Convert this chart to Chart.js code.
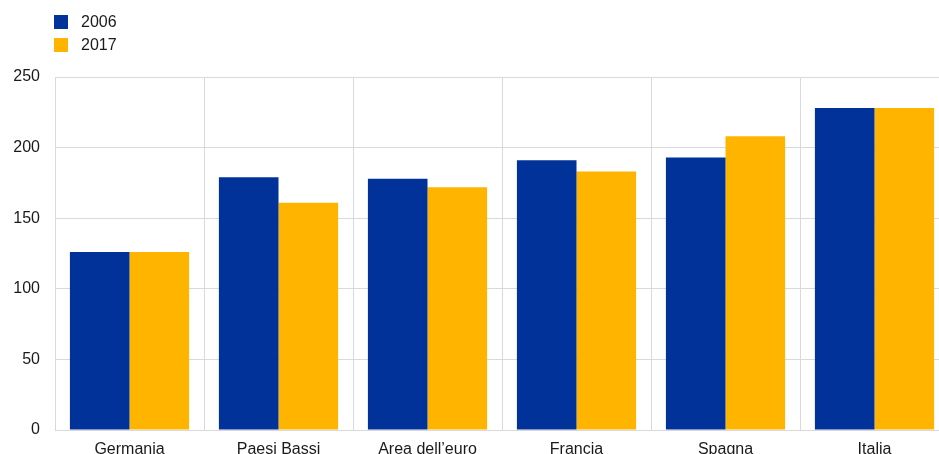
<!DOCTYPE html>
<html>
<head>
<meta charset="utf-8">
<script src="https://cdn.jsdelivr.net/npm/chart.js@4/dist/chart.umd.min.js"></script>
<style>
  html, body { margin: 0; padding: 0; overflow: hidden; background: #fff; }
  #wrap { position: relative; width: 939px; height: 454px; overflow: hidden; }
  #chart { position: absolute; left: 0; top: 0; }
  #legend { position: absolute; left: 54px; top: 15px; font: 16px "Liberation Sans", Arial, sans-serif; color: #1a1a1a; }
  .item { display: flex; align-items: center; height: 14px; line-height: 14px; margin-bottom: 9px; }
  .box { width: 14px; height: 14px; margin-right: 13px; }
</style>
</head>
<body>
<div id="wrap">
  <canvas id="chart" width="955" height="470"></canvas>
  <div id="legend"></div>
</div>
<script>
var categories = ["Germania", "Paesi Bassi", "Area dell\u2019euro", "Francia", "Spagna", "Italia"];
var values2006 = [126, 179, 178, 191, 193, 228];
var values2017 = [126, 161, 172, 183, 208, 228];
var seriesNames = ["2006", "2017"];
var barColors = ["#003299", "#FFB400"];
var yTicks = [0, 50, 100, 150, 200, 250];

var legend = document.getElementById("legend");
seriesNames.forEach(function (name, i) {
    var row = document.createElement("div");
    row.className = "item";
    var box = document.createElement("span");
    box.className = "box";
    box.style.background = barColors[i];
    var txt = document.createElement("span");
    txt.textContent = name;
    row.appendChild(box);
    row.appendChild(txt);
    legend.appendChild(row);
});

Chart.defaults.font.family = '"Liberation Sans", Arial, sans-serif';
Chart.defaults.font.size = 16;
Chart.defaults.color = "#1a1a1a";

new Chart("chart", {
    type: "bar",
    data: {
        labels: categories,
        datasets: [
            { label: seriesNames[0], data: values2006, backgroundColor: barColors[0] },
            { label: seriesNames[1], data: values2017, backgroundColor: barColors[1] }
        ]
    },
    options: {
        responsive: false,
        animation: false,
        layout: { padding: { top: 77, left: 0, right: 6, bottom: 10 } },
        datasets: { bar: { categoryPercentage: 0.8, barPercentage: 1.0 } },
        plugins: { legend: { display: false }, tooltip: { enabled: false } },
        scales: {
            x: {
                grid: { color: "#d9d9d9", drawTicks: false, offset: true },
                border: { color: "#d9d9d9" },
                ticks: { padding: 10, maxRotation: 0 },
                afterFit: function (axis) { axis.height = 30; }
            },
            y: {
                min: yTicks[0],
                max: yTicks[yTicks.length - 1],
                afterBuildTicks: function (axis) {
                    axis.ticks = yTicks.map(function (v) { return { value: v }; });
                },
                grid: { color: "#d9d9d9", drawTicks: false },
                border: { color: "#d9d9d9" },
                ticks: { padding: 15 },
                afterFit: function (axis) { axis.width = 55; }
            }
        }
    }
});
</script>
</body>
</html>
